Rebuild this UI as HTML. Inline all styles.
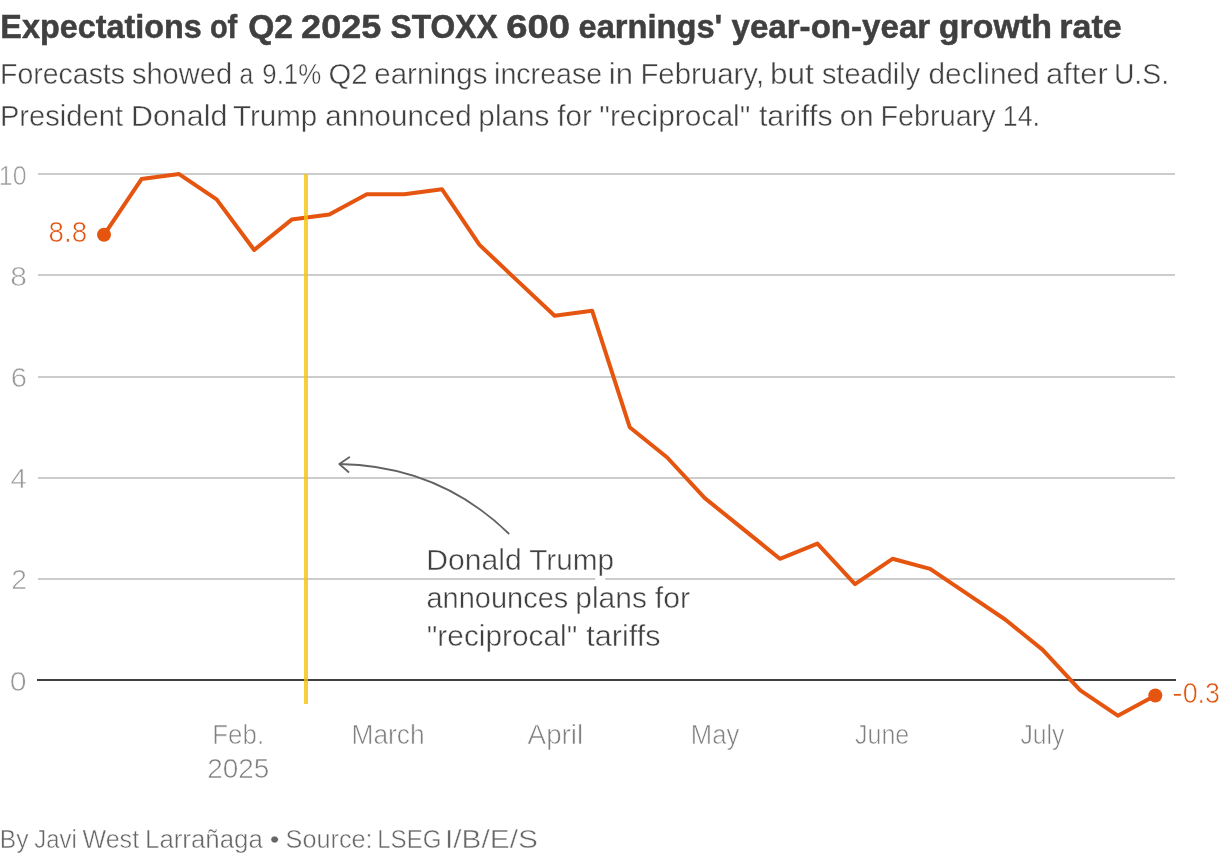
<!DOCTYPE html>
<html lang="en">
<head>
<meta charset="utf-8">
<title>Expectations of Q2 2025 STOXX 600 earnings' year-on-year growth rate</title>
<style>
html,body{margin:0;padding:0;background:#fff;}
body{width:1220px;height:856px;overflow:hidden;font-family:"Liberation Sans",sans-serif;}
svg{display:block;}
text{font-family:"Liberation Sans",sans-serif;white-space:pre;}
.title{fill:#404040;font-weight:bold;stroke:#404040;stroke-width:0.5px;}
.sub{fill:#404040;stroke:#fff;stroke-width:0.45px;}
.note{fill:#404040;stroke:#fff;stroke-width:0.45px;}
.ytick{fill:#999999;stroke:#fff;stroke-width:0.6px;}
.xtick{fill:#7f7f7f;stroke:#fff;stroke-width:0.6px;}
.xdig{fill:#7f7f7f;stroke:#fff;stroke-width:0.6px;}
.val{fill:#e0530c;stroke:#fff;stroke-width:0.6px;}
.foot{fill:#666666;stroke:#fff;stroke-width:0.5px;}
.grid line{stroke:#cccccc;stroke-width:2;}
</style>
</head>
<body>
<svg width="1220" height="856" viewBox="0 0 1220 856">
<rect width="1220" height="856" fill="#ffffff"/>
<text class="title" font-size="33.60" y="37.65"><tspan x="0.32" textLength="201.55" lengthAdjust="spacingAndGlyphs">Expectations</tspan> <tspan x="209.89" textLength="27.36" lengthAdjust="spacingAndGlyphs">of</tspan> <tspan x="248.13" textLength="44.74" lengthAdjust="spacingAndGlyphs">Q2</tspan> <tspan x="301.11" textLength="80.15" lengthAdjust="spacingAndGlyphs">2025</tspan> <tspan x="390.62" textLength="107.02" lengthAdjust="spacingAndGlyphs">STOXX</tspan> <tspan x="506.36" textLength="63.75" lengthAdjust="spacingAndGlyphs">600</tspan> <tspan x="578.53" textLength="143.77" lengthAdjust="spacingAndGlyphs">earnings'</tspan> <tspan x="731.50" textLength="198.74" lengthAdjust="spacingAndGlyphs">year-on-year</tspan> <tspan x="938.82" textLength="113.11" lengthAdjust="spacingAndGlyphs">growth</tspan> <tspan x="1059.22" textLength="62.43" lengthAdjust="spacingAndGlyphs">rate</tspan></text>
<text class="sub" font-size="30.23" y="84.17"><tspan x="-0.01" textLength="125.02" lengthAdjust="spacingAndGlyphs">Forecasts</tspan> <tspan x="131.88" textLength="100.21" lengthAdjust="spacingAndGlyphs">showed</tspan> <tspan x="239.53" textLength="13.73" lengthAdjust="spacingAndGlyphs">a</tspan> <tspan x="262.33" textLength="58.86" lengthAdjust="spacingAndGlyphs">9.1%</tspan> <tspan x="328.38" textLength="39.13" lengthAdjust="spacingAndGlyphs">Q2</tspan> <tspan x="374.29" textLength="113.10" lengthAdjust="spacingAndGlyphs">earnings</tspan> <tspan x="494.04" textLength="108.19" lengthAdjust="spacingAndGlyphs">increase</tspan> <tspan x="608.86" textLength="24.15" lengthAdjust="spacingAndGlyphs">in</tspan> <tspan x="640.40" textLength="123.68" lengthAdjust="spacingAndGlyphs">February,</tspan> <tspan x="769.94" textLength="43.85" lengthAdjust="spacingAndGlyphs">but</tspan> <tspan x="821.88" textLength="98.32" lengthAdjust="spacingAndGlyphs">steadily</tspan> <tspan x="928.52" textLength="111.20" lengthAdjust="spacingAndGlyphs">declined</tspan> <tspan x="1045.97" textLength="61.85" lengthAdjust="spacingAndGlyphs">after</tspan> <tspan x="1113.90" textLength="55.16" lengthAdjust="spacingAndGlyphs">U.S.</tspan></text>
<text class="sub" font-size="30.23" y="126.12"><tspan x="-0.07" textLength="123.06" lengthAdjust="spacingAndGlyphs">President</tspan> <tspan x="131.07" textLength="96.20" lengthAdjust="spacingAndGlyphs">Donald</tspan> <tspan x="232.93" textLength="84.30" lengthAdjust="spacingAndGlyphs">Trump</tspan> <tspan x="325.28" textLength="146.40" lengthAdjust="spacingAndGlyphs">announced</tspan> <tspan x="478.37" textLength="71.02" lengthAdjust="spacingAndGlyphs">plans</tspan> <tspan x="557.34" textLength="34.66" lengthAdjust="spacingAndGlyphs">for</tspan> <tspan x="599.26" textLength="151.09" lengthAdjust="spacingAndGlyphs">"reciprocal"</tspan> <tspan x="758.93" textLength="73.67" lengthAdjust="spacingAndGlyphs">tariffs</tspan> <tspan x="839.74" textLength="33.81" lengthAdjust="spacingAndGlyphs">on</tspan> <tspan x="880.46" textLength="115.24" lengthAdjust="spacingAndGlyphs">February</tspan> <tspan x="1002.79" textLength="37.18" lengthAdjust="spacingAndGlyphs">14.</tspan></text>
<g class="grid"><line x1="38" x2="1175" y1="174" y2="174"/><line x1="38" x2="1175" y1="275" y2="275"/><line x1="38" x2="1175" y1="377" y2="377"/><line x1="38" x2="1175" y1="478" y2="478"/><line x1="38" x2="1175" y1="579" y2="579"/></g>
<rect x="595.2" y="577.5" width="10" height="3" fill="#ffffff"/>
<line x1="37" x2="1176" y1="680" y2="680" stroke="#404040" stroke-width="2"/>
<path d="M104.0,234.8 L141.5,179.1 L179.1,174.1 L216.6,199.4 L254.2,250.0 L291.7,219.6 L329.3,214.6 L366.8,194.3 L404.4,194.3 L441.9,189.2 L479.5,244.9 L517.0,280.4 L554.6,315.8 L592.1,310.7 L629.7,427.2 L667.2,457.5 L704.8,498.1 L742.3,528.4 L779.9,558.8 L817.4,543.6 L855.0,584.1 L892.5,558.8 L930.1,568.9 L967.6,594.2 L1005.2,619.5 L1042.7,649.9 L1080.3,690.4 L1117.8,715.7 L1155.3,695.5" fill="none" stroke="#e5550f" stroke-width="4" stroke-linejoin="round" stroke-linecap="round"/>
<circle cx="104.0" cy="234.8" r="7" fill="#e5550f"/>
<circle cx="1155.3" cy="695.5" r="7" fill="#e5550f"/>
<rect x="304" y="174" width="4" height="530" fill="#f4c30e" fill-opacity="0.8"/>
<g fill="none" stroke="#626262" stroke-width="1.8" stroke-linejoin="round">
<path d="M509.2,534.0 Q439,465.6 339.4,464.0"/>
<path d="M349.3,457.3 L339.3,464.0 L348.5,472.0" stroke-linecap="round"/>
</g>
<text class="ytick" font-size="28.17" y="184.50"><tspan x="-1.21" textLength="27.68" lengthAdjust="spacingAndGlyphs">10</tspan></text>
<text class="ytick" font-size="28.17" y="285.70"><tspan x="10.30" textLength="16.70" lengthAdjust="spacingAndGlyphs">8</tspan></text>
<text class="ytick" font-size="28.17" y="386.90"><tspan x="10.67" textLength="16.30" lengthAdjust="spacingAndGlyphs">6</tspan></text>
<text class="ytick" font-size="28.17" y="488.10"><tspan x="10.56" textLength="16.25" lengthAdjust="spacingAndGlyphs">4</tspan></text>
<text class="ytick" font-size="28.17" y="589.30"><tspan x="11.24" textLength="15.63" lengthAdjust="spacingAndGlyphs">2</tspan></text>
<text class="ytick" font-size="28.17" y="690.50"><tspan x="9.66" textLength="16.88" lengthAdjust="spacingAndGlyphs">0</tspan></text>
<text class="xtick" font-size="26.71" y="744.30"><tspan x="212.33" textLength="51.75" lengthAdjust="spacingAndGlyphs">Feb.</tspan></text>
<text class="xdig" font-size="28.07" y="778.40"><tspan x="207.19" textLength="62.14" lengthAdjust="spacingAndGlyphs">2025</tspan></text>
<text class="xtick" font-size="26.71" y="744.30"><tspan x="351.53" textLength="73.17" lengthAdjust="spacingAndGlyphs">March</tspan></text>
<text class="xtick" font-size="26.71" y="744.30"><tspan x="527.58" textLength="55.65" lengthAdjust="spacingAndGlyphs">April</tspan></text>
<text class="xtick" font-size="26.71" y="744.30"><tspan x="690.80" textLength="48.39" lengthAdjust="spacingAndGlyphs">May</tspan></text>
<text class="xtick" font-size="26.71" y="744.30"><tspan x="854.92" textLength="54.36" lengthAdjust="spacingAndGlyphs">June</tspan></text>
<text class="xtick" font-size="26.71" y="744.30"><tspan x="1020.53" textLength="43.83" lengthAdjust="spacingAndGlyphs">July</tspan></text>
<text class="val" font-size="28.65" y="241.50"><tspan x="48.55" textLength="38.51" lengthAdjust="spacingAndGlyphs">8.8</tspan></text>
<text class="val" font-size="28.73" y="702.60"><tspan x="1172.35" textLength="10.36" lengthAdjust="spacingAndGlyphs">-</tspan><tspan x="1182.70" textLength="37.30" lengthAdjust="spacingAndGlyphs">0.3</tspan></text>
<text class="note" font-size="29.53" y="570.28"><tspan x="426.18" textLength="95.59" lengthAdjust="spacingAndGlyphs">Donald</tspan> <tspan x="529.16" textLength="84.92" lengthAdjust="spacingAndGlyphs">Trump</tspan></text>
<text class="note" font-size="29.53" y="607.83"><tspan x="426.53" textLength="141.72" lengthAdjust="spacingAndGlyphs">announces</tspan> <tspan x="575.30" textLength="71.62" lengthAdjust="spacingAndGlyphs">plans</tspan> <tspan x="654.82" textLength="35.29" lengthAdjust="spacingAndGlyphs">for</tspan></text>
<text class="note" font-size="29.53" y="645.52"><tspan x="426.78" textLength="150.56" lengthAdjust="spacingAndGlyphs">"reciprocal"</tspan> <tspan x="586.31" textLength="74.14" lengthAdjust="spacingAndGlyphs">tariffs</tspan></text>
<text class="foot" font-size="26.43" y="848.15"><tspan x="-0.28" textLength="28.76" lengthAdjust="spacingAndGlyphs">By</tspan> <tspan x="34.25" textLength="42.57" lengthAdjust="spacingAndGlyphs">Javi</tspan> <tspan x="82.53" textLength="56.59" lengthAdjust="spacingAndGlyphs">West</tspan> <tspan x="145.06" textLength="117.74" lengthAdjust="spacingAndGlyphs">Larrañaga</tspan> <tspan x="269.85" textLength="9.73" lengthAdjust="spacingAndGlyphs">•</tspan> <tspan x="285.57" textLength="87.04" lengthAdjust="spacingAndGlyphs">Source:</tspan> <tspan x="377.22" textLength="64.25" lengthAdjust="spacingAndGlyphs">LSEG</tspan> <tspan x="444.99" textLength="92.90" lengthAdjust="spacingAndGlyphs">I/B/E/S</tspan></text>
</svg>
</body>
</html>
